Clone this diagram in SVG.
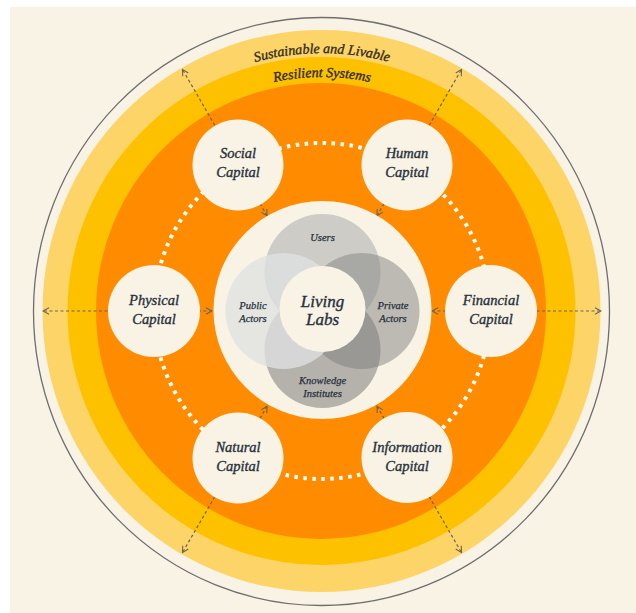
<svg xmlns="http://www.w3.org/2000/svg" width="636" height="613" viewBox="0 0 636 613">
<defs>
<style>
.lbl{font-family:"Liberation Serif","DejaVu Serif",serif;font-style:italic;fill:#27303c;stroke:#27303c;stroke-width:0.35;text-anchor:middle}
.cap{font-size:14.5px}
.venn{font-size:10.5px;stroke-width:0.25}
.ring{font-family:"Liberation Serif","DejaVu Serif",serif;font-style:italic;font-size:14px;fill:#2f2a1c;stroke:#2f2a1c;stroke-width:0.35}
.node{fill:#f8f3e5}
.radial{stroke:#6b6455;stroke-width:1.2;stroke-dasharray:3 2.5;fill:none;marker-start:url(#arr);marker-end:url(#arr)}
</style>
<marker id="arr" viewBox="0 0 8 8" refX="7" refY="4" markerWidth="8" markerHeight="8" markerUnits="userSpaceOnUse" orient="auto-start-reverse">
<path d="M1,0.8 L7,4 L1,7.2" fill="none" stroke="#6b6455" stroke-width="1.1"/>
</marker>
<path id="arcOuter" d="M 64,311 A 258,258 0 0 1 580,311"/>
<path id="arcInner" d="M 88,311 A 234,234 0 0 1 556,311"/>
</defs>
<rect x="0" y="0" width="636" height="613" fill="#ffffff"/>
<rect x="10" y="7" width="626" height="606" fill="#f8f3e4"/>
<g id="rings">
<ellipse cx="321.5" cy="311.5" rx="288" ry="294" fill="none" stroke="#6e6e6e" stroke-width="1.3"/>
<ellipse cx="321.5" cy="311" rx="279" ry="281" fill="#fdd468"/>
<ellipse cx="321.5" cy="311" rx="254" ry="254" fill="#fec100"/>
<ellipse cx="321" cy="311" rx="225" ry="228" fill="#ff8c00"/>
<text class="ring"><textPath href="#arcOuter" startOffset="50%" text-anchor="middle">Sustainable and Livable</textPath></text>
<text class="ring"><textPath href="#arcInner" startOffset="50%" text-anchor="middle">Resilient Systems</textPath></text>
</g>
<g id="connectors">
<circle cx="322" cy="311" r="168" fill="none" stroke="#ffffff" stroke-width="4" stroke-dasharray="3.5 5.5"/>
<line class="radial" x1="267" y1="215.7" x2="182.5" y2="69.4"/>
<line class="radial" x1="377" y1="215.7" x2="461.5" y2="69.4"/>
<line class="radial" x1="212" y1="311" x2="43" y2="311"/>
<line class="radial" x1="432" y1="311" x2="601" y2="311"/>
<line class="radial" x1="267" y1="406.3" x2="182.5" y2="552.6"/>
<line class="radial" x1="377" y1="406.3" x2="461.5" y2="552.6"/>
</g>
<g id="living-labs-cluster">
<circle class="node" cx="322.5" cy="310" r="109"/>
<g id="users"><circle cx="322.5" cy="272" r="58" fill="#b3b3b3" fill-opacity="0.62"/></g>
<g id="private-actors"><circle cx="361.5" cy="311" r="58" fill="#8a8a8a" fill-opacity="0.55"/></g>
<g id="knowledge-institutes"><circle cx="322.5" cy="350" r="58" fill="#7c7c7c" fill-opacity="0.55"/></g>
<g id="public-actors"><circle cx="283.5" cy="311" r="58" fill="#dfe0e2" fill-opacity="0.78"/></g>
<text class="lbl venn" x="322.5" y="241">Users</text>
<text class="lbl venn" x="253" y="309">Public</text>
<text class="lbl venn" x="253" y="322">Actors</text>
<text class="lbl venn" x="393" y="309">Private</text>
<text class="lbl venn" x="393" y="322">Actors</text>
<text class="lbl venn" x="322.5" y="384">Knowledge</text>
<text class="lbl venn" x="322.5" y="397">Institutes</text>
<g id="living-labs">
<circle class="node" cx="322.5" cy="309" r="43"/>
<text class="lbl" style="font-size:17px" x="322.5" y="307">Living</text>
<text class="lbl" style="font-size:17px" x="322.5" y="325">Labs</text>
</g>
</g>
<g id="social-capital"><circle class="node" cx="238" cy="165" r="45.5"/><text class="lbl cap" x="238" y="158">Social</text><text class="lbl cap" x="238" y="177">Capital</text></g>
<g id="human-capital"><circle class="node" cx="407" cy="165" r="45.5"/><text class="lbl cap" x="407" y="158">Human</text><text class="lbl cap" x="407" y="177">Capital</text></g>
<g id="physical-capital"><circle class="node" cx="154" cy="311" r="46"/><text class="lbl cap" x="154" y="305">Physical</text><text class="lbl cap" x="154" y="324">Capital</text></g>
<g id="financial-capital"><circle class="node" cx="491" cy="311" r="46"/><text class="lbl cap" x="491" y="305">Financial</text><text class="lbl cap" x="491" y="324">Capital</text></g>
<g id="natural-capital"><circle class="node" cx="238" cy="458" r="45.5"/><text class="lbl cap" x="238" y="452">Natural</text><text class="lbl cap" x="238" y="471">Capital</text></g>
<g id="information-capital"><circle class="node" cx="407" cy="457.5" r="45.5"/><text class="lbl cap" x="407" y="452">Information</text><text class="lbl cap" x="407" y="471">Capital</text></g>
</svg>
